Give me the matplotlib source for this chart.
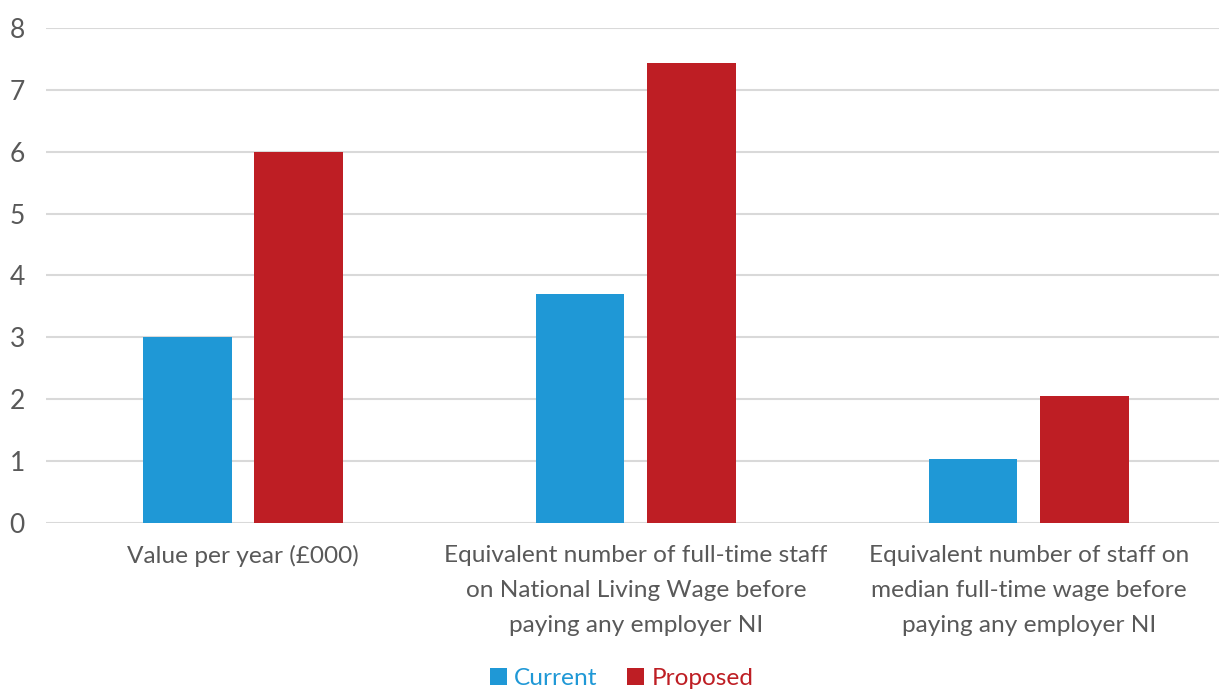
import matplotlib
matplotlib.use("Agg")
import matplotlib.pyplot as plt
import numpy as np

categories = ["Value per year (£000)",
              "Equivalent number of full-time staff\non National Living Wage before\npaying any employer NI",
              "Equivalent number of staff on\nmedian full-time wage before\npaying any employer NI"]
series_names = ["Current", "Proposed"]
current = [3.0, 3.7, 1.03]
proposed = [6.0, 7.43, 2.05]
yticks = [0, 1, 2, 3, 4, 5, 6, 7, 8]

colors = ["#1F98D6", "#BE1E24"]
text_color = "#595959"
plt.rcParams['font.family'] = ['Lato', 'DejaVu Sans']

fig = plt.figure(figsize=(12.19, 6.89), dpi=100)
ax = fig.add_axes([0.0381, 0.2409, 0.967, 0.7185])

x = np.arange(len(categories))
w = 0.226
gap = 0.058
ax.bar(x - (w + gap) / 2, current, w, color=colors[0], label=series_names[0], zorder=3)
ax.bar(x + (w + gap) / 2, proposed, w, color=colors[1], label=series_names[1], zorder=3)

ax.set_xlim(-0.5, len(categories) - 0.5)
ax.set_ylim(0, 8)
ax.set_yticks(yticks)
ax.yaxis.grid(True, color="#D9D9D9", linewidth=1.5, zorder=0)
ax.set_axisbelow(True)
for s in ax.spines.values():
    s.set_visible(False)
ax.tick_params(axis="both", length=0, colors=text_color)
ax.tick_params(axis="y", pad=21, labelsize=19)
ax.tick_params(axis="x", pad=16, labelsize=17.6)
ax.set_xticks(x)
ax.set_xticklabels(categories, fontsize=17.6, color=text_color, linespacing=1.82)
for lbl in ax.get_yticklabels():
    lbl.set_horizontalalignment("center")

leg = fig.legend(loc="center", bbox_to_anchor=(0.51, 0.015), ncol=2, frameon=False,
                 fontsize=17.6, handlelength=0.7, handleheight=0.7, handletextpad=0.3,
                 columnspacing=1.2, borderaxespad=0)
for t, c in zip(leg.get_texts(), colors):
    t.set_color(c)

fig.savefig("out.png", dpi=100)
